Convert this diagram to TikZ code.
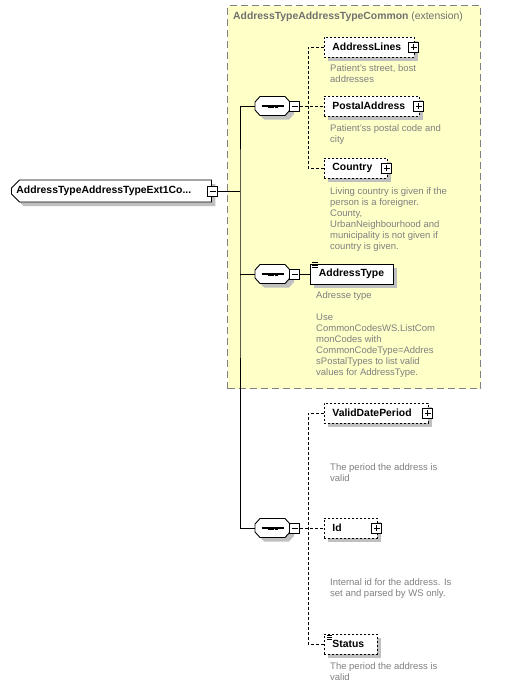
\documentclass[tikz,border=0pt]{standalone}
\usepackage{fontspec}
\setmainfont{Liberation Sans}
\usetikzlibrary{shapes.misc,shadows}
\definecolor{xsext}{RGB}{255,255,200}
\definecolor{xsframe}{RGB}{128,128,128}
\definecolor{xstitle}{RGB}{112,112,112}
\definecolor{xsdoc}{RGB}{128,128,128}
\definecolor{xsshade}{RGB}{192,192,192}
\tikzset{
  shade4/.style={drop shadow={shadow xshift=4pt, shadow yshift=-4pt, fill=xsshade, opacity=1}},
  elem/.style={
    draw=black, line width=0.9pt, fill=white, shade4,
    font=\fontsize{10.4}{12}\selectfont\bfseries, align=left,
    inner xsep=8pt, inner ysep=0pt, minimum height=20pt, anchor=west
  },
  optelem/.style={elem, dash pattern=on 2pt off 2pt},
  rootelem/.style={
    elem, chamfered rectangle, chamfered rectangle corners={north west,south west},
    chamfered rectangle sep=4pt, inner xsep=1pt, minimum height=22pt
  },
  seqframe/.style={draw=black, line width=0.9pt, fill=white},
  seq/.style={
    rectangle, inner sep=0pt, minimum width=35pt, minimum height=19pt,
    path picture={
      \draw[black, line width=1.2pt] ([xshift=-11pt]path picture bounding box.center) -- ([xshift=11pt]path picture bounding box.center);
      \foreach \d in {-3.5,0,3.5}
        \fill[black] ([xshift=\d pt]path picture bounding box.center) +(-1.5pt,-1.5pt) rectangle +(1.5pt,1.5pt);
    }
  },
  minbox/.style={
    draw=black, fill=white, line width=1pt, minimum size=10pt, inner sep=0pt,
    path picture={
      \draw[line width=1pt] ([xshift=2pt]path picture bounding box.west) -- ([xshift=-2pt]path picture bounding box.east);
    }
  },
  plusbox/.style={
    draw=black, fill=white, line width=1pt, minimum size=10pt, inner sep=0pt,
    path picture={
      \draw[line width=1pt] ([xshift=2pt]path picture bounding box.west) -- ([xshift=-2pt]path picture bounding box.east);
      \draw[line width=1pt] ([yshift=-2pt]path picture bounding box.north) -- ([yshift=2pt]path picture bounding box.south);
    }
  },
  extbox/.style={draw=xsframe, fill=xsext, line width=1.2pt, dash pattern=on 7pt off 4pt, inner sep=0pt},
  doc/.style={anchor=north west, align=left, inner sep=0pt, text=xsdoc, font=\fontsize{9.5}{11}\selectfont},
  wire/.style={draw=black, line width=1pt},
  tree/.style={draw=black, line width=0.9pt, dash pattern=on 3pt off 2pt}
}
\begin{document}
\begin{tikzpicture}[x=1pt,y=-1pt]
  \useasboundingbox (0,0) rectangle (523,688);
  % extension group
  \node[extbox, anchor=north west, minimum width=253pt, minimum height=383pt] (common) at (227,5) {};
  \node[anchor=west, inner sep=0pt, text=xstitle, font=\fontsize{10.4}{12}\selectfont] (commontitle) at (233,17)
    {\textbf{AddressTypeAddressTypeCommon} (extension)};

  \node[rootelem, text width=190pt] (root) at (11,191) {AddressTypeAddressTypeExt1Co...};
  \node[minbox] (rootx) at ([xshift=1pt]root.east) {};
  \coordinate (trunk) at (240,191);

  % sequence compositors: octagon frame with shadow, then the node
  \foreach \y in {106,274,528} {
    \fill[xsshade, shift={(276.5,\y+4)}] (-17.5,-4) -- (-12.5,-9.5) -- (12.5,-9.5) -- (17.5,-4)
      -- (17.5,4) -- (12.5,9.5) -- (-12.5,9.5) -- (-17.5,4) -- cycle;
    \draw[seqframe, shift={(272.5,\y)}] (-17.5,-4) -- (-12.5,-9.5) -- (12.5,-9.5) -- (17.5,-4)
      -- (17.5,4) -- (12.5,9.5) -- (-12.5,9.5) -- (-17.5,4) -- cycle;
  }
  \node[seq] (seq1) at (272.5,106) {};
  \node[minbox, anchor=west] (seq1x) at ([xshift=-1pt]seq1.east) {};
  \node[seq] (seq2) at (272.5,274) {};
  \node[minbox, anchor=west] (seq2x) at ([xshift=-1pt]seq2.east) {};
  \node[seq] (seq3) at (272.5,528) {};
  \node[minbox, anchor=west] (seq3x) at ([xshift=-1pt]seq3.east) {};

  % first sequence
  \node[optelem, text width=74pt] (lines) at (324,47) {AddressLines};
  \node[plusbox] (linesx) at ([xshift=-1pt]lines.east) {};
  \node[doc] (linesdoc) at (330,64) {Patient's street, bost\\addresses};
  \node[optelem, text width=79pt] (postal) at (324,106) {PostalAddress};
  \node[plusbox] (postalx) at ([xshift=-1pt]postal.east) {};
  \node[doc] (postaldoc) at (330,124) {Patient'ss postal code and\\city};
  \node[optelem, text width=47pt] (country) at (324,168) {Country};
  \node[plusbox] (countryx) at ([xshift=-1pt]country.east) {};
  \node[doc] (countrydoc) at (330,187) {Living country is given if the\\person is a foreigner.\\County,\\UrbanNeighbourhood and\\municipality is not given if\\country is given.};

  % second sequence
  \node[elem, text width=66pt, inner xsep=8.5pt] (type) at (310,274) {AddressType};
  \foreach \k in {1,-1.5,-4}
    \draw[line width=0.8pt] ([xshift=2pt,yshift=\k pt]type.north west) -- ++(6,0);
  \node[doc] (typedoc) at (316,291) {Adresse type\\[11pt]Use\\CommonCodesWS.ListCom\\monCodes with\\CommonCodeType=Addres\\sPostalTypes to list valid\\values for AddressType.};

  % third sequence
  \node[optelem, text width=88pt] (valid) at (324,413) {ValidDatePeriod};
  \node[plusbox] (validx) at ([xshift=-1pt]valid.east) {};
  \node[doc] (validdoc) at (330,463) {The period the address is\\valid};
  \node[optelem, text width=37pt] (id) at (324,528) {Id};
  \node[plusbox] (idx) at ([xshift=-1pt]id.east) {};
  \node[doc] (iddoc) at (330,578) {Internal id for the address. Is\\set and parsed by WS only.};
  \node[optelem, text width=37pt] (status) at (324,644) {Status};
  \foreach \k in {-1.5,-3.5,-5.5}
    \draw[line width=0.8pt] ([xshift=3pt,yshift=\k pt]status.north west) -- ++(5,0);
  \node[doc] (statusdoc) at (330,662) {The period the address is\\valid};

  % connectors
  \draw[wire] (rootx.east) -- (trunk);
  \draw[wire] (seq1.west) -| (trunk) |- (seq3.west);
  \draw[wire] (seq2.west) -- (seq2.west -| trunk);
  \draw[wire] (seq2x.east) -- (type.west);
  \draw[tree] (seq1x.east) -- (postal.west);
  \draw[tree] (lines.west) -- ++(-16,0) |- (country.west);
  \draw[tree] (seq3x.east) -- (id.west);
  \draw[tree] (valid.west) -- ++(-16,0) |- (status.west);
\end{tikzpicture}
\end{document}
